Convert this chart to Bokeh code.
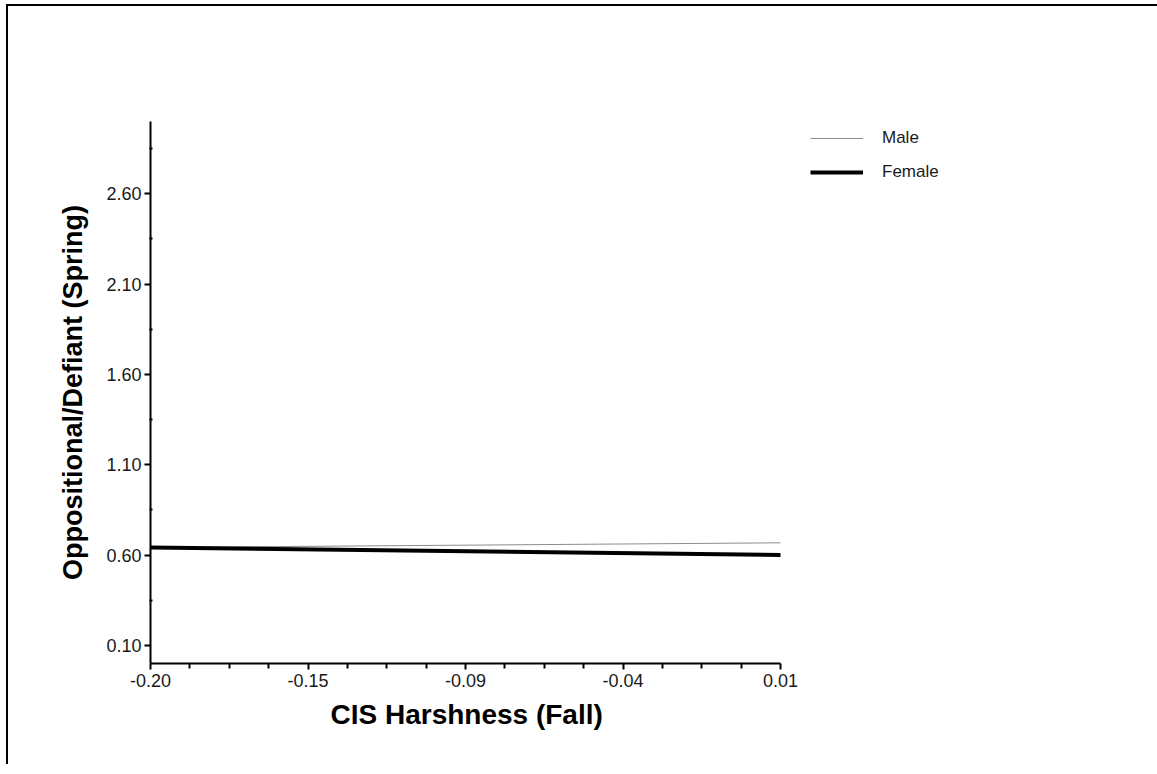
from bokeh.plotting import figure
from bokeh.models import FixedTicker, Legend, LegendItem, Range1d, Title
from bokeh.embed import file_html
from bokeh.resources import INLINE
import numpy as np

# ---- data ----
x_vals = [-0.20, 0.01]
male = [0.642, 0.668]
female = [0.642, 0.601]

x_ticks = [-0.2, -0.1475, -0.095, -0.0425, 0.01]
x_tick_labels = ["-0.20", "-0.15", "-0.09", "-0.04", "0.01"]
y_ticks = [0.10, 0.60, 1.10, 1.60, 2.10, 2.60]
y_tick_labels = ["0.10", "0.60", "1.10", "1.60", "2.10", "2.60"]
y_minor = [0.35, 0.85, 1.35, 1.85, 2.35, 2.85]

FONT = "Liberation Sans"

# frame is widened to the right (x up to 0.08) so the legend fits inside it;
# the x axis itself is bounded to -0.20 .. 0.01
p = figure(width=1152, height=760, output_backend="svg", toolbar_location=None,
           x_range=Range1d(-0.20, 0.08), y_range=Range1d(0.0, 3.0),
           min_border_left=142, min_border_right=170, min_border_top=115, min_border_bottom=103)
p.margin = (4, 0, 0, 6)
p.styles = {"border-style": "solid none none solid", "border-width": "2px",
            "border-color": "black"}
p.outline_line_color = None
p.xgrid.visible = False
p.ygrid.visible = False

r_male = p.line(x_vals, male, line_color="#8c8c8c", line_width=1)
r_female = p.line(x_vals, female, line_color="black", line_width=4)

x_minor = [v for v in np.linspace(-0.2, 0.01, 17) if not any(abs(v - t) < 1e-9 for t in x_ticks)]
p.xaxis.ticker = FixedTicker(ticks=x_ticks, minor_ticks=x_minor)
p.xaxis.major_label_overrides = {t: l for t, l in zip(x_ticks, x_tick_labels)}
p.xaxis.bounds = (-0.20, 0.01)
p.yaxis.ticker = FixedTicker(ticks=y_ticks, minor_ticks=y_minor)
p.yaxis.major_label_overrides = {t: l for t, l in zip(y_ticks, y_tick_labels)}

for ax in (p.xaxis, p.yaxis):
    ax.axis_line_width = 2
    ax.axis_line_color = "black"
    ax.major_tick_line_color = "black"
    ax.minor_tick_line_color = "black"
    ax.major_tick_line_width = 2
    ax.minor_tick_line_width = 2
    ax.major_label_text_font = FONT
    ax.major_label_text_font_size = "18px"
    ax.major_label_text_color = "#1a1a1a"
    ax.axis_label_text_font = FONT
    ax.axis_label_text_font_style = "bold"
    ax.axis_label_text_color = "black"

p.xaxis.major_tick_in = 0
p.xaxis.major_tick_out = 6
p.xaxis.minor_tick_in = 0
p.xaxis.minor_tick_out = 5
p.xaxis.major_label_standoff = 4

# x-axis title centred under the bounded axis (-0.20 .. 0.01)
x_title = Title(text="CIS Harshness (Fall)", align="left", offset=180, standoff=15,
                text_font=FONT, text_font_size="28px", text_font_style="bold",
                text_color="black")
p.add_layout(x_title, "below")

p.yaxis.major_tick_in = 0
p.yaxis.major_tick_out = 6
p.yaxis.minor_tick_in = 2
p.yaxis.minor_tick_out = 1
p.yaxis.major_label_standoff = 3
p.yaxis.axis_label = "Oppositional/Defiant (Spring)"
p.yaxis.axis_label_text_font_size = "27px"
p.yaxis.axis_label_standoff = 15

legend = Legend(items=[LegendItem(label="Male", renderers=[r_male]),
                       LegendItem(label="Female", renderers=[r_female])],
                location=(660, 481), padding=0, margin=0, spacing=14,
                glyph_width=53, glyph_height=20, label_height=20, label_standoff=19,
                label_text_font=FONT, label_text_font_size="17px", label_text_color="#1a1a1a",
                border_line_color=None, background_fill_alpha=0)
p.add_layout(legend, "center")

open("out.html", "w").write(file_html(p, INLINE))
